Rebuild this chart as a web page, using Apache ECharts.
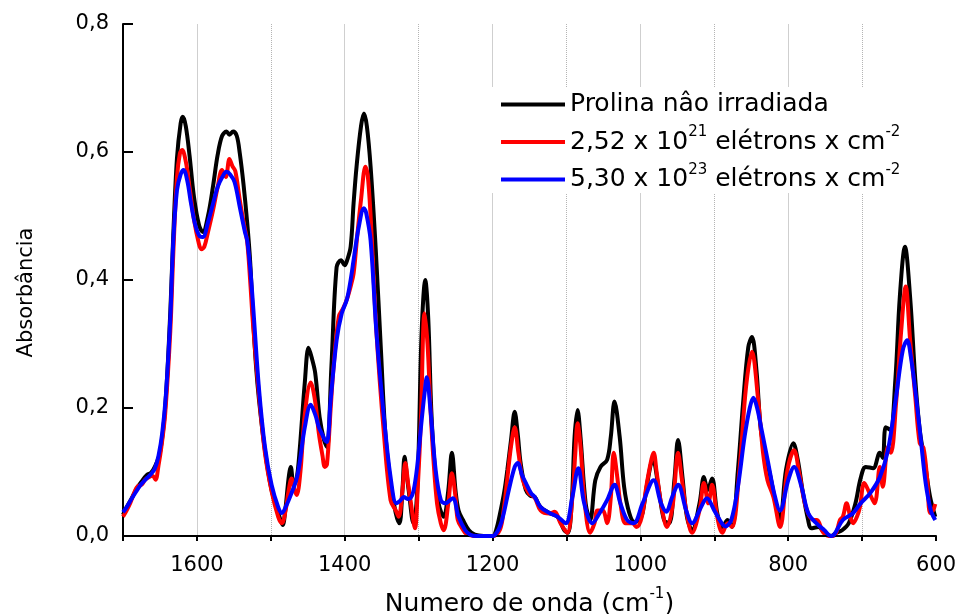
<!DOCTYPE html>
<html><head><meta charset="utf-8">
<script src="https://cdn.jsdelivr.net/npm/echarts@6/dist/echarts.min.js"></script>
<style>html,body{margin:0;padding:0;background:#fff}#c{width:959px;height:614px}</style>
</head><body><div id="c"></div>
<script>
const seriesNames = ['Prolina nâo irradiada', '2,52 x 10^21 elétrons x cm^-2', '5,30 x 10^23 elétrons x cm^-2'];
const legendRich = ['{n|Prolina nâo irradiada}', '{n|2,52 x 10}{s|21}{n| elétrons x cm}{s|-2}', '{n|5,30 x 10}{s|23}{n| elétrons x cm}{s|-2}'];
const yTicks = [0, 0.2, 0.4, 0.6, 0.8];

const waveBlack = [1700,1695,1690,1681,1675,1668,1662,1657,1650,1643,1636,1632,1627,1622,1619,1615,1610,1604,1597,1592,1585,1578,1572,1566,1560,1556,1551,1546,1542,1537,1532,1528,1524,1520,1516,1508,1499,1489,1484,1480,1476,1473,1469,1465,1461,1454,1449,1445,1440,1434,1428,1424,1418,1411,1405,1400,1397,1392,1388,1384,1378,1374,1370,1365,1358,1351,1345,1338,1331,1326,1322,1319,1316,1313,1307,1303,1300,1296,1291,1287,1283,1279,1273,1266,1260,1255,1250,1246,1240,1232,1224,1212,1200,1195,1189,1184,1180,1175,1170,1166,1162,1155,1149,1143,1135,1123,1112,1103,1098,1093,1089,1085,1081,1074,1068,1061,1054,1045,1040,1035,1028,1022,1015,1008,1002,997,990,983,976,968,961,954,949,943,937,930,920,914,909,903,896,889,882,876,868,861,854,849,843,837,830,823,816,811,803,793,787,780,773,769,759,751,742,735,727,718,709,702,695,685,676,672,668,662,655,649,642,635,628,622,615,608,601];
const absBlack = [0.033,0.045,0.055,0.075,0.085,0.095,0.099,0.108,0.13,0.2,0.35,0.47,0.59,0.645,0.655,0.64,0.595,0.53,0.485,0.475,0.5,0.548,0.595,0.625,0.632,0.627,0.632,0.625,0.598,0.55,0.49,0.43,0.34,0.265,0.213,0.134,0.072,0.033,0.017,0.045,0.09,0.108,0.08,0.09,0.134,0.24,0.294,0.28,0.255,0.186,0.15,0.139,0.265,0.42,0.431,0.423,0.43,0.452,0.52,0.577,0.64,0.66,0.64,0.577,0.447,0.29,0.16,0.083,0.036,0.02,0.07,0.124,0.095,0.067,0.02,0.05,0.134,0.317,0.40,0.34,0.2,0.12,0.051,0.03,0.07,0.13,0.07,0.04,0.025,0.009,0.002,0,0,0.01,0.04,0.07,0.103,0.15,0.194,0.16,0.114,0.072,0.063,0.061,0.045,0.036,0.03,0.009,0.005,0.05,0.155,0.197,0.155,0.051,0.025,0.087,0.108,0.119,0.155,0.21,0.155,0.077,0.036,0.022,0.025,0.036,0.087,0.12,0.08,0.025,0.02,0.087,0.15,0.092,0.03,0.009,0.051,0.092,0.072,0.09,0.036,0.014,0.025,0.014,0.103,0.208,0.295,0.311,0.26,0.166,0.124,0.087,0.045,0.025,0.103,0.145,0.119,0.067,0.025,0.012,0.014,0.005,0,0.005,0.009,0.02,0.051,0.09,0.108,0.106,0.13,0.122,0.17,0.166,0.244,0.373,0.452,0.373,0.244,0.166,0.114,0.061,0.03];

const waveRed = [1700,1695,1690,1684,1680,1675,1670,1665,1660,1656,1652,1648,1643,1636,1632,1627,1623,1620,1615,1610,1604,1598,1594,1590,1585,1578,1572,1566,1561,1556,1552,1548,1542,1536,1532,1528,1524,1516,1508,1499,1490,1485,1480,1476,1472,1468,1465,1460,1454,1446,1440,1435,1430,1427,1424,1419,1415,1408,1402,1397,1392,1388,1383,1378,1372,1369,1365,1357,1347,1338,1331,1327,1322,1318,1314,1311,1305,1301,1297,1292,1288,1284,1280,1275,1270,1266,1260,1255,1250,1247,1240,1236,1225,1200,1190,1185,1180,1175,1170,1165,1159,1151,1143,1135,1123,1116,1108,1099,1092,1088,1085,1081,1076,1068,1062,1058,1051,1045,1040,1036,1031,1027,1020,1011,1005,998,992,985,982,978,972,964,956,949,944,938,930,920,914,908,903,896,889,882,876,866,857,849,841,834,828,820,811,801,792,785,776,766,761,753,745,740,735,730,726,721,716,712,707,703,697,690,683,676,672,665,661,654,647,641,635,628,622,617,612,608,604,601];
const absRed = [0.03,0.04,0.052,0.07,0.078,0.08,0.088,0.092,0.094,0.088,0.11,0.14,0.19,0.32,0.44,0.56,0.598,0.603,0.585,0.545,0.495,0.46,0.448,0.452,0.475,0.51,0.545,0.572,0.561,0.589,0.578,0.57,0.525,0.485,0.46,0.4,0.33,0.22,0.13,0.07,0.03,0.02,0.04,0.07,0.09,0.072,0.064,0.1,0.19,0.24,0.21,0.16,0.125,0.108,0.112,0.2,0.265,0.343,0.356,0.37,0.39,0.41,0.47,0.525,0.577,0.565,0.5,0.317,0.16,0.056,0.04,0.03,0.07,0.114,0.08,0.056,0.012,0.08,0.18,0.348,0.3,0.2,0.12,0.05,0.02,0.009,0.05,0.098,0.06,0.025,0.01,0.004,0,0,0.01,0.04,0.09,0.14,0.17,0.13,0.087,0.067,0.06,0.04,0.035,0.038,0.02,0.005,0.06,0.13,0.176,0.14,0.061,0.005,0.02,0.04,0.04,0.02,0.06,0.13,0.09,0.051,0.02,0.02,0.014,0.03,0.077,0.12,0.13,0.1,0.051,0.014,0.05,0.13,0.09,0.04,0.005,0.04,0.083,0.051,0.08,0.03,0.005,0.02,0.014,0.103,0.233,0.288,0.217,0.13,0.087,0.061,0.014,0.103,0.134,0.098,0.045,0.025,0.025,0.006,0,0,0.005,0.025,0.03,0.051,0.03,0.02,0.03,0.045,0.083,0.067,0.051,0.108,0.077,0.139,0.13,0.208,0.322,0.39,0.306,0.217,0.145,0.138,0.09,0.036,0.04,0.05];

const waveBlue = [1700,1695,1690,1683,1676,1668,1662,1657,1652,1647,1642,1636,1632,1627,1622,1618,1613,1608,1602,1596,1592,1585,1578,1572,1566,1560,1555,1549,1542,1535,1532,1528,1524,1516,1508,1499,1490,1485,1480,1472,1465,1461,1454,1446,1440,1435,1431,1427,1424,1419,1411,1404,1397,1392,1388,1381,1374,1371,1365,1357,1347,1338,1330,1325,1320,1315,1311,1307,1302,1296,1292,1289,1284,1277,1270,1264,1254,1246,1237,1230,1222,1200,1192,1186,1178,1170,1166,1160,1155,1148,1143,1135,1123,1112,1101,1092,1084,1076,1065,1055,1045,1035,1027,1018,1009,997,982,972,965,957,949,938,930,918,910,900,890,885,877,868,859,852,847,842,836,827,819,811,800,792,782,773,762,751,742,738,726,712,702,689,676,665,654,645,639,634,627,620,614,607,601];
const absBlue = [0.037,0.045,0.055,0.068,0.08,0.09,0.097,0.105,0.125,0.16,0.22,0.34,0.46,0.54,0.565,0.572,0.555,0.52,0.485,0.468,0.467,0.49,0.52,0.545,0.56,0.569,0.565,0.553,0.514,0.475,0.462,0.42,0.36,0.23,0.14,0.08,0.045,0.036,0.045,0.067,0.09,0.114,0.17,0.205,0.19,0.17,0.16,0.15,0.147,0.213,0.306,0.348,0.37,0.4,0.431,0.483,0.512,0.505,0.462,0.317,0.186,0.092,0.051,0.055,0.061,0.058,0.059,0.07,0.108,0.18,0.223,0.248,0.197,0.103,0.056,0.051,0.059,0.03,0.009,0.002,0,0,0.01,0.03,0.072,0.108,0.114,0.095,0.083,0.067,0.061,0.045,0.036,0.03,0.02,0.061,0.106,0.051,0.02,0.036,0.056,0.08,0.051,0.025,0.02,0.051,0.087,0.051,0.038,0.061,0.08,0.04,0.02,0.045,0.059,0.04,0.02,0.015,0.025,0.077,0.155,0.2,0.216,0.2,0.166,0.114,0.067,0.04,0.087,0.108,0.077,0.036,0.02,0.009,0,0.002,0.025,0.036,0.051,0.067,0.092,0.134,0.217,0.29,0.306,0.28,0.217,0.145,0.083,0.04,0.025];

const FONT = 'DejaVu Sans';
function zip(w, a) { return w.map((x, i) => [x, a[i]]); }
const colors = ['#000000', '#ff0000', '#0000ff'];
const datasets = [zip(waveBlack, absBlack), zip(waveRed, absRed), zip(waveBlue, absBlue)];

const chart = echarts.init(document.getElementById('c'), null, {renderer: 'canvas'});
const supRich = {
  n: {fontFamily: FONT, fontSize: 25, color: '#000', lineHeight: 34},
  s: {fontFamily: FONT, fontSize: 15, color: '#000', lineHeight: 15, verticalAlign: 'top'}
};
const hiddenAxis = (interval, style, z) => ({
  type: 'value', inverse: true, min: 600, max: 1700, interval: interval, position: 'bottom',
  axisLine: {show: false}, axisTick: {show: false}, axisLabel: {show: false},
  splitLine: {show: true, showMinLine: false, showMaxLine: false, lineStyle: style}, z: z
});
chart.setOption({
  animation: false,
  backgroundColor: '#fff',
  grid: {left: 123, right: 23, top: 24, bottom: 78, containLabel: false, outerBoundsMode: 'none'},
  legend: {
    data: seriesNames,
    orient: 'vertical',
    left: 491, top: 87,
    padding: [5, 10, 1, 10],
    itemGap: 8,
    itemWidth: 64, itemHeight: 4,
    icon: 'rect',
    backgroundColor: '#fff',
    formatter: name => legendRich[seriesNames.indexOf(name)],
    textStyle: {fontFamily: FONT, fontSize: 25, color: '#000', rich: supRich},
    z: 10
  },
  xAxis: [
    {
      type: 'value', inverse: true, min: 600, max: 1700, interval: 100, position: 'bottom',
      name: '{n|Numero de onda (cm}{s|-1}{n|)}',
      nameLocation: 'middle', nameGap: 51,
      nameTextStyle: {rich: {
        n: {fontFamily: FONT, fontSize: 25, color: '#000', lineHeight: 34},
        s: {fontFamily: FONT, fontSize: 15, color: '#000', lineHeight: 15, verticalAlign: 'top'}
      }},
      axisLine: {show: true, onZero: false, lineStyle: {color: '#000', width: 2}},
      axisTick: {show: true, inside: false, length: 5, lineStyle: {color: '#000', width: 2}},
      axisLabel: {
        margin: 19, color: '#000', fontFamily: FONT, fontSize: 21,
        formatter: v => (v % 200 === 0 ? String(v) : '')
      },
      splitLine: {show: false}, z: 5
    },
    hiddenAxis(100, {color: '#b4b4b4', width: 1, type: 'dotted'}, 0),
    hiddenAxis(200, {color: '#cfcfcf', width: 1, type: 'solid'}, 1)
  ],
  yAxis: {
    type: 'value', min: 0, max: 0.8, interval: 0.2,
    name: 'Absorbância', nameLocation: 'middle', nameGap: 86, nameRotate: 90,
    nameTextStyle: {fontFamily: FONT, fontSize: 21, color: '#000', padding: [0, 25, 0, 0]},
    axisLine: {show: true, onZero: false, lineStyle: {color: '#000', width: 2}},
    axisTick: {show: true, inside: true, length: 10, lineStyle: {color: '#000', width: 2}},
    axisLabel: {margin: 14, color: '#000', fontFamily: FONT, fontSize: 21,
      formatter: v => v.toFixed(1).replace('.', ',')},
    splitLine: {show: false}
  },
  series: seriesNames.map((nm, i) => ({
    name: nm, type: 'line', xAxisIndex: 0, data: datasets[i],
    showSymbol: false, symbol: 'none', smooth: 0.35,
    lineStyle: {color: colors[i], width: 4}, itemStyle: {color: colors[i]},
    z: 3 + i
  }))
});
</script></body></html>
